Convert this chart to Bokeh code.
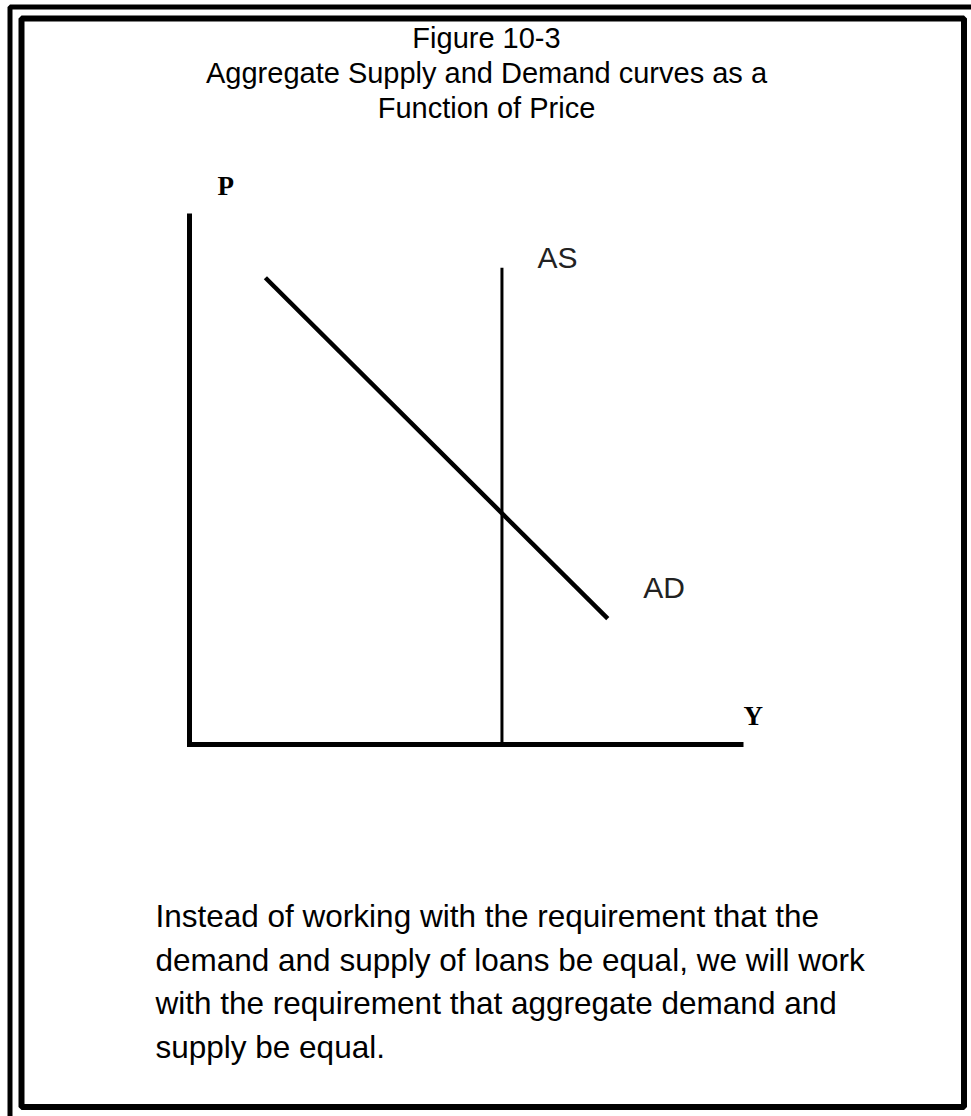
from bokeh.plotting import figure
from bokeh.models import Range1d
from bokeh.core.properties import value
from bokeh.embed import file_html
from bokeh.resources import INLINE

# ---------------- data (chart units: Y along x, P along y) ----------------
title_lines = ["Figure 10-3",
               "Aggregate Supply and Demand curves as a",
               "Function of Price"]
caption_lines = ["Instead of working with the requirement that the",
                 "demand and supply of loans be equal, we will work",
                 "with the requirement that aggregate demand and",
                 "supply be equal."]
axis_names = ["Y", "P"]
axis_y = [0.0, 0.0, 10.0]      # L-shaped axes: top of P axis, origin, end of Y axis
axis_p = [10.0, 0.0, 0.0]
as_y = [5.64, 5.64]            # vertical aggregate supply
as_p = [0.0, 8.98]
ad_y = [1.37, 7.55]            # downward sloping aggregate demand
ad_p = [8.79, 2.37]
curve_names = ["AS", "AD"]

# ---------------- layout (page pixels) ----------------
W, H = 971, 1116
PAGE_X0, PAGE_Y0 = 0, 0
ORIGIN_X, ORIGIN_Y = 189, 744
PX_PER_Y, PX_PER_P = 55.4, 53.1

x_range = Range1d((PAGE_X0 - ORIGIN_X) / PX_PER_Y, (PAGE_X0 + W - ORIGIN_X) / PX_PER_Y)
y_range = Range1d((ORIGIN_Y - (PAGE_Y0 + H)) / PX_PER_P, (ORIGIN_Y - PAGE_Y0) / PX_PER_P)

p = figure(width=W, height=H, x_range=x_range, y_range=y_range,
           output_backend="svg", toolbar_location=None,
           x_axis_location=None, y_axis_location=None,
           min_border=0, outline_line_color=None,
           background_fill_color="white", border_fill_color="white")
p.grid.visible = False

# page-pixel ranges for decoration
p.extra_x_ranges = {"px": Range1d(PAGE_X0, PAGE_X0 + W)}
p.extra_y_ranges = {"px": Range1d(PAGE_Y0 + H, PAGE_Y0)}

# double frame (outer one runs off the right and bottom edges)
p.quad(left=9.5, right=980, top=6.5, bottom=1125, fill_color=None,
       line_color="black", line_width=5, x_range_name="px", y_range_name="px")
p.quad(left=21, right=963.5, top=18, bottom=1106.5, fill_color=None,
       line_color="black", line_width=6, x_range_name="px", y_range_name="px")

# title
p.text(x=[486] * 3, y=[37, 72, 107], text=title_lines,
       text_align="center", text_baseline="alphabetic",
       text_font=value("Liberation Sans"), text_font_size="29px",
       text_color="black", x_range_name="px", y_range_name="px")

# caption
p.text(x=[155] * 4, y=[915, 959, 1002, 1046], text=caption_lines,
       text_align="left", text_baseline="alphabetic",
       text_font=value("Liberation Sans"), text_font_size="31.5px",
       text_color="black", x_range_name="px", y_range_name="px")

# axes
p.line(axis_y, axis_p, line_color="black", line_width=5, line_join="miter")

# curves
p.line(as_y, as_p, line_color="black", line_width=3)
p.line(ad_y, ad_p, line_color="black", line_width=4.5)

# axis names
p.text(x=[10.0, 0.505], y=[0.53, 10.51], text=axis_names,
       text_align="left", text_baseline="alphabetic",
       text_font=value("Liberation Serif"), text_font_style="bold",
       text_font_size="27px", text_color="black")

# curve names
p.text(x=[6.28, 8.19], y=[9.17, 2.96], text=curve_names,
       text_align="left", text_baseline="alphabetic",
       text_font=value("Liberation Sans"), text_font_size="30px",
       text_color="#222222")

open("out.html", "w").write(file_html(p, INLINE))
